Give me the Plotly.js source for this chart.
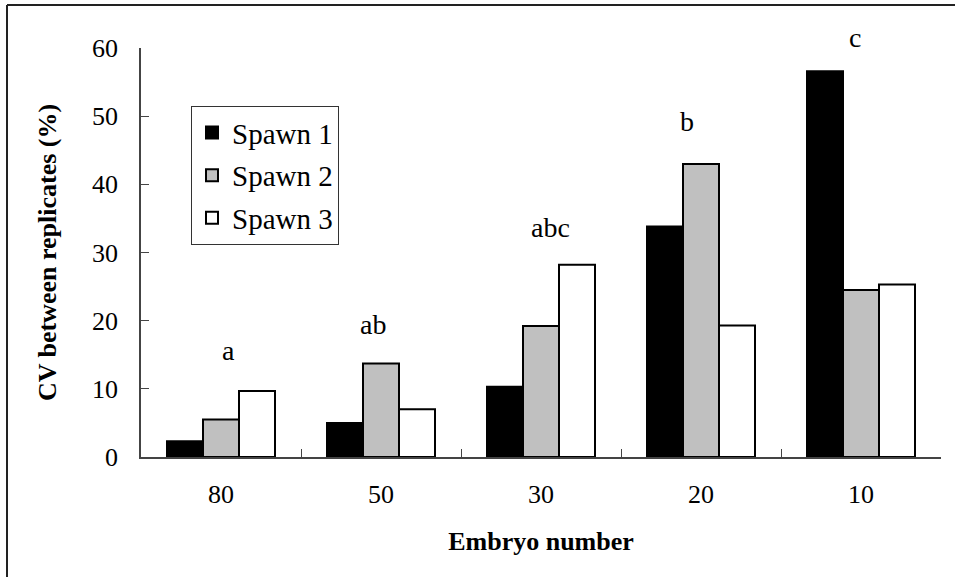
<!DOCTYPE html>
<html>
<head>
<meta charset="utf-8">
<script src="https://cdn.plot.ly/plotly-3.0.1.min.js"></script>
<style>html,body{margin:0;padding:0;background:#fff;}#chart{width:955px;height:577px;}</style>
</head>
<body>
<div id="chart"></div>
<script>
const categories = ['80', '50', '30', '20', '10'];
const spawn1 = [2.3, 5.0, 10.3, 33.8, 56.6];
const spawn2 = [5.5, 13.7, 19.2, 43.0, 24.5];
const spawn3 = [9.7, 7.0, 28.2, 19.3, 25.3];
const seriesNames = ['Spawn 1', 'Spawn 2', 'Spawn 3'];
const letterLabels = ['a', 'ab', 'abc', 'b', 'c'];
const letterY = [15.6, 19.5, 33.6, 49.2, 60];
const letterXShift = [7, -8, 9, -14, -6];
const letterYShift = [0, 0, 0, 0, 11];

const serif = '"Liberation Serif", "Times New Roman", Times, serif';
const fills = ['#000000', '#c0c0c0', '#ffffff'];
const values = [spawn1, spawn2, spawn3];

const traces = values.map((v, i) => ({
  type: 'bar',
  name: seriesNames[i],
  x: categories,
  y: v,
  marker: {color: fills[i], line: {color: '#000', width: 2}},
  legendgroup: 'g' + i
}));

// category axis positions are indices 0..n-1
const annotations = letterLabels.map((t, i) => ({
  x: i, y: letterY[i], xref: 'x', yref: 'y',
  text: t, showarrow: false, xshift: letterXShift[i], yshift: letterYShift[i],
  yanchor: 'middle', font: {family: serif, size: 28, color: '#000'}
}));

const layout = {
  width: 955, height: 577,
  margin: {l: 141, r: 14, t: 48, b: 120},
  paper_bgcolor: '#fff', plot_bgcolor: '#fff',
  barmode: 'group', bargap: 0.325, bargroupgap: 0,
  font: {family: serif, color: '#000'},
  showlegend: true,
  legend: {
    x: 0.0625, y: 0.858, xanchor: 'left', yanchor: 'top',
    bordercolor: '#333', borderwidth: 1, bgcolor: '#fff',
    font: {family: serif, size: 29, color: '#000'},
    traceorder: 'grouped', tracegroupgap: 2
  },
  xaxis: {
    type: 'category', range: [-0.5, categories.length - 0.5], autorange: false,
    showline: true, linecolor: '#444', linewidth: 1.5,
    ticks: 'inside', tickson: 'boundaries', ticklen: 8, tickcolor: '#444',
    tickfont: {family: serif, size: 26, color: '#000'}, tickangle: 0,
    ticklabelstandoff: 13,
    showgrid: false, zeroline: false,
    title: {text: '<b>Embryo number</b>', font: {family: serif, size: 26, color: '#000'}, standoff: 24}
  },
  yaxis: {
    range: [0, 60], autorange: false, dtick: 10,
    showline: true, linecolor: '#444', linewidth: 1.5,
    ticks: 'inside', ticklen: 8, tickcolor: '#444',
    tickfont: {family: serif, size: 26, color: '#000'},
    ticklabelstandoff: 16,
    showgrid: false, zeroline: false,
    title: {text: '<b>CV between replicates (%)</b>', font: {family: serif, size: 26, color: '#000'}, standoff: 28}
  },
  annotations: annotations,
  shapes: [
    {type: 'line', xref: 'paper', yref: 'paper', x0: -0.1675, x1: -0.1675, y0: 1.105, y1: -0.3, line: {color: '#222', width: 2}},
    {type: 'line', xref: 'paper', yref: 'paper', x0: -0.1675, x1: 1.02, y0: 1.105, y1: 1.105, line: {color: '#222', width: 2}}
  ]
};

Plotly.newPlot('chart', traces, layout, {displayModeBar: false, responsive: false});
</script>
</body>
</html>
